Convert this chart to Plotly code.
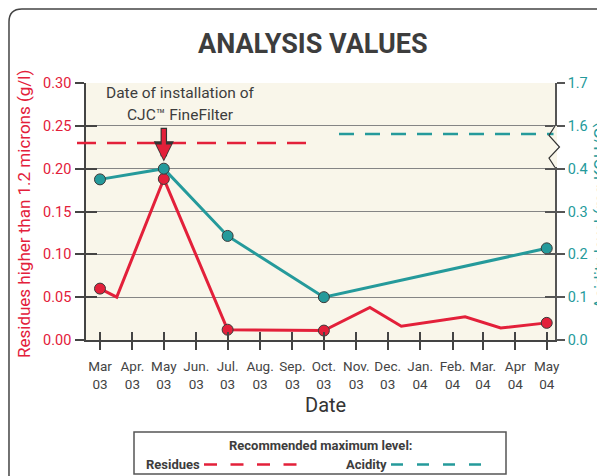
import plotly.graph_objects as go

# ---------------- data ----------------
month_dates = ["2003-03-01", "2003-04-01", "2003-05-01", "2003-06-01", "2003-07-01",
               "2003-08-01", "2003-09-01", "2003-10-01", "2003-11-01", "2003-12-01",
               "2004-01-01", "2004-02-01", "2004-03-01", "2004-04-01", "2004-05-01"]
month_labels = ["Mar<br>03", "Apr.<br>03", "May<br>03", "Jun.<br>03", "Jul.<br>03",
                "Aug.<br>03", "Sep.<br>03", "Oct.<br>03", "Nov.<br>03", "Dec.<br>03",
                "Jan.<br>04", "Feb.<br>04", "Mar.<br>04", "Apr<br>04", "May<br>04"]

res_dates = ["2003-03-01", "2003-03-17", "2003-05-01", "2003-07-01", "2003-10-01",
             "2003-11-14", "2003-12-14", "2004-02-13", "2004-03-18", "2004-05-01"]
res_vals = [0.060, 0.050, 0.188, 0.012, 0.011, 0.038, 0.016, 0.027, 0.014, 0.020]
res_marked = [True, False, True, True, True, False, False, False, False, True]

acid_dates = ["2003-03-01", "2003-05-01", "2003-07-01", "2003-10-01", "2004-05-01"]
acid_vals = [0.375, 0.40, 0.243, 0.10, 0.214]

res_limit = 0.23
acid_limit = 1.37

res_ticks = [0.00, 0.05, 0.10, 0.15, 0.20, 0.25, 0.30]
acid_tick_vals = [0.0, 0.1, 0.2, 0.3, 0.4, 1.6, 1.7]


def acid_axis(v):
    # broken scale: 0-0.4 linear, 0.4-1.6 compressed to one step, 1.6-1.7 one step
    if v <= 0.4:
        return v
    if v <= 1.6:
        return 0.4 + (v - 0.4) / 1.2 * 0.1
    return 0.5 + (v - 1.6)


# ---------------- styling ----------------
RED = "#e3203a"
TEAL = "#259a9b"
DARK = "#3d3d3d"
FONT = "Roboto, Liberation Sans, sans-serif"

OFF = 8  # page offset of the figure (body margin)
W, H = 597, 468
L, T = 86 - OFF, 83 - OFF
PW, PH = 555 - 86, 340 - 83
R, B = W - L - PW, H - T - PH


def px(X):
    # page pixel x -> paper coordinate
    return (X - OFF - L) / PW


def py(Y):
    # page pixel y -> paper coordinate
    return (T + PH - (Y - OFF)) / PH


fig = go.Figure()

fig.add_trace(go.Scatter(x=res_dates, y=res_vals, mode="lines",
                         line=dict(color=RED, width=3), hoverinfo="skip"))
fig.add_trace(go.Scatter(x=[d for d, m in zip(res_dates, res_marked) if m],
                         y=[v for v, m in zip(res_vals, res_marked) if m],
                         mode="markers",
                         marker=dict(color=RED, size=11, line=dict(color="#3a3a3a", width=1))))
fig.add_trace(go.Scatter(x=acid_dates, y=[acid_axis(v) for v in acid_vals], yaxis="y2",
                         mode="lines+markers", line=dict(color=TEAL, width=3),
                         marker=dict(color=TEAL, size=11, line=dict(color="#3a3a3a", width=1))))
# invisible helpers for the overlay tick axes
fig.add_trace(go.Scatter(x=[month_dates[0]], y=[0], xaxis="x3", yaxis="y3",
                         mode="markers", marker=dict(opacity=0), hoverinfo="skip"))
fig.add_trace(go.Scatter(x=[month_dates[0]], y=[0], xaxis="x", yaxis="y4",
                         mode="markers", marker=dict(opacity=0), hoverinfo="skip"))

xrange = ["2003-02-15 15:00", "2004-05-08 22:00"]

shapes = []
# recommended levels
shapes.append(dict(type="line", xref="paper", yref="y", x0=px(77), x1=px(312),
                   y0=res_limit, y1=res_limit, line=dict(color=RED, width=2.5, dash="19px,11px")))
shapes.append(dict(type="line", xref="paper", yref="y2", x0=px(339), x1=px(556),
                   y0=acid_axis(acid_limit), y1=acid_axis(acid_limit),
                   line=dict(color=TEAL, width=2.5, dash="15px,11px")))
# axis break on the right axis
shapes.append(dict(type="rect", xref="paper", yref="paper", x0=px(553.5), x1=px(557),
                   y0=py(167), y1=py(126), fillcolor="#f9f6ea", line=dict(width=0), layer="above"))
zz = [(555, 126), (549, 135.5), (559.5, 147), (549, 158), (555, 167.5)]
path = "M " + " L ".join(f"{px(a):.4f},{py(b):.4f}" for a, b in zz)
shapes.append(dict(type="path", xref="paper", yref="paper", path=path,
                   line=dict(color="#333", width=1.2), layer="above"))
# outer rounded frame
frame = (f"M {px(9):.4f},{py(490):.4f} L {px(9):.4f},{py(22):.4f} "
         f"Q {px(9):.4f},{py(9):.4f} {px(22):.4f},{py(9):.4f} L {px(620):.4f},{py(9):.4f}")
shapes.append(dict(type="path", xref="paper", yref="paper", path=frame,
                   line=dict(color="#444", width=1.5)))
# legend box
shapes.append(dict(type="rect", xref="paper", yref="paper", x0=px(134), x1=px(506),
                   y0=py(474), y1=py(432), line=dict(color="#555", width=1.5),
                   fillcolor="white"))
shapes.append(dict(type="line", xref="paper", yref="paper", x0=px(204), x1=px(298),
                   y0=py(464.5), y1=py(464.5), line=dict(color=RED, width=2.5, dash="13px,13.5px")))
shapes.append(dict(type="line", xref="paper", yref="paper", x0=px(391), x1=px(484),
                   y0=py(464.5), y1=py(464.5), line=dict(color=TEAL, width=2.5, dash="12px,14px")))

annotations = [
    dict(text="<b>ANALYSIS VALUES</b>", xref="paper", yref="paper", x=px(313), y=py(44),
         xanchor="center", yanchor="middle", showarrow=False,
         font=dict(size=27, color=DARK, family=FONT)),
    dict(text="Residues higher than 1.2 microns (g/l)", xref="paper", yref="paper",
         x=px(24), y=py(214), textangle=-90, xanchor="center", yanchor="middle",
         showarrow=False, font=dict(size=17, color=RED, family=FONT)),
    dict(text="Acidity level (mg KOH/G)", xref="paper", yref="paper",
         x=px(600), y=py(216), textangle=-90, xanchor="center", yanchor="middle",
         showarrow=False, font=dict(size=17, color=TEAL, family=FONT)),
    dict(text="Date", xref="paper", yref="paper", x=px(325.5), y=py(405),
         xanchor="center", yanchor="middle", showarrow=False,
         font=dict(size=20, color="#333", family=FONT)),
    dict(text="Date of installation of", xref="paper", yref="paper", x=px(180.5), y=py(93),
         xanchor="center", yanchor="middle", showarrow=False,
         font=dict(size=15.5, color=DARK, family=FONT)),
    dict(text="CJC™ FineFilter", xref="paper", yref="paper", x=px(180.5), y=py(115),
         xanchor="center", yanchor="middle", showarrow=False,
         font=dict(size=15.5, color=DARK, family=FONT)),
    # arrow: dark outline underneath, red on top
    dict(text="", x="2003-05-01", y=0.2085, xref="x", yref="y", ax="2003-05-01", ay=0.2495,
         axref="x", ayref="y", showarrow=True, arrowhead=2, arrowsize=0.62, arrowwidth=6.5,
         arrowcolor="#333", standoff=0),
    dict(text="", x="2003-05-01", y=0.2105, xref="x", yref="y", ax="2003-05-01", ay=0.248,
         axref="x", ayref="y", showarrow=True, arrowhead=2, arrowsize=0.72, arrowwidth=4.2,
         arrowcolor=RED, standoff=0),
    dict(text="<b>Recommended maximum level:</b>", xref="paper", yref="paper",
         x=px(321), y=py(446), xanchor="center", yanchor="middle", showarrow=False,
         font=dict(size=13, color=DARK, family=FONT)),
    dict(text="<b>Residues</b>", xref="paper", yref="paper", x=px(202), y=py(464.5),
         xanchor="right", yanchor="middle", showarrow=False,
         font=dict(size=13, color=DARK, family=FONT)),
    dict(text="<b>Acidity</b>", xref="paper", yref="paper", x=px(389), y=py(464.5),
         xanchor="right", yanchor="middle", showarrow=False,
         font=dict(size=13, color=DARK, family=FONT)),
]

fig.update_layout(
    width=W, height=H,
    margin=dict(l=L, r=R, t=T, b=B, pad=0),
    paper_bgcolor="white", plot_bgcolor="#f9f6ea",
    showlegend=False,
    font=dict(family=FONT, color=DARK),
    xaxis=dict(type="date", range=xrange, tickvals=month_dates, ticktext=month_labels,
               ticks="outside", ticklen=8, tickwidth=1.5, tickcolor="#444",
               showline=True, linecolor="#444", linewidth=1.5, showgrid=False,
               zeroline=False, tickangle=0, tickfont=dict(size=13.5, color="#444"),
               ticklabelstandoff=5, fixedrange=True),
    xaxis3=dict(type="date", range=xrange, tickvals=month_dates, overlaying="x",
                anchor="y", side="bottom", ticks="inside", ticklen=8, tickwidth=1.5,
                tickcolor="#444", showticklabels=False, showline=False, showgrid=False,
                zeroline=False),
    yaxis=dict(range=[0, 0.30], tickvals=res_ticks, ticktext=[f"{v:.2f}" for v in res_ticks],
               ticks="outside", ticklen=9, tickwidth=1.5, tickcolor="#444",
               showline=True, linecolor="#444", linewidth=1.5,
               showgrid=True, gridcolor="#858585", gridwidth=1, zeroline=False,
               tickfont=dict(size=14.5, color=RED), ticklabelstandoff=1),
    yaxis2=dict(range=[0, 0.6], overlaying="y", side="right",
                tickvals=[acid_axis(v) for v in acid_tick_vals],
                ticktext=[f"{v:.1f}" for v in acid_tick_vals],
                ticks="outside", ticklen=8, tickwidth=1.5, tickcolor="#555",
                showline=True, linecolor="#555", linewidth=1.5, showgrid=False,
                zeroline=False, tickfont=dict(size=14.5, color=TEAL), ticklabelstandoff=0),
    yaxis3=dict(range=[0, 0.30], overlaying="y", side="left", anchor="x",
                tickvals=res_ticks, ticks="inside", ticklen=11, tickwidth=1.5,
                tickcolor="#444", showticklabels=False, showline=False, showgrid=False,
                zeroline=False),
    yaxis4=dict(range=[0, 0.6], overlaying="y", side="right", anchor="x",
                tickvals=[acid_axis(v) for v in acid_tick_vals], ticks="inside",
                ticklen=10, tickwidth=1.5, tickcolor="#555", showticklabels=False,
                showline=False, showgrid=False, zeroline=False),
    shapes=shapes,
    annotations=annotations,
)

fig.write_html("out.html")
